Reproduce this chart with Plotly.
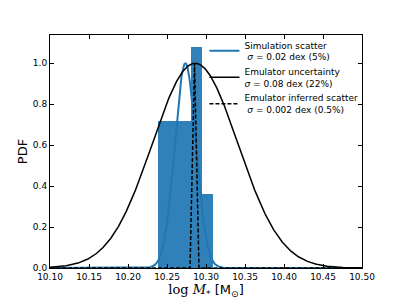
import numpy as np
import plotly.graph_objects as go

# Histogram (simulation samples), bin edges and heights
bin_edges = [10.2388, 10.2528, 10.2667, 10.2807, 10.2946, 10.3086]
bin_heights = [0.72, 0.72, 0.72, 1.08, 0.36]

# Gaussian curve parameters (peak-normalised curves)
sim_mu, sim_sigma = 10.2735, 0.0135
emu_mu, emu_sigma = 10.286, 0.055
# Emulator inferred scatter (narrow dashed peak) points
inf_x = [10.10, 10.2795, 10.2853, 10.2910, 10.50]
inf_y = [0.0, 0.0, 1.0, 0.0, 0.0]

x_ticks = [10.10, 10.15, 10.20, 10.25, 10.30, 10.35, 10.40, 10.45, 10.50]
y_ticks = [0.0, 0.2, 0.4, 0.6, 0.8, 1.0]

grid = np.linspace(10.10, 10.50, 801)
sim_curve = np.exp(-0.5 * ((grid - sim_mu) / sim_sigma) ** 2)
emu_curve = np.exp(-0.5 * ((grid - emu_mu) / emu_sigma) ** 2)

blue = "#1f77b4"
fig = go.Figure()

fig.add_trace(go.Scatter(x=grid, y=sim_curve, mode="lines",
                         line=dict(color=blue, width=2),
                         name="Simulation scatter<br> <i>σ</i> = 0.02 dex (5%)"))

centers = [(bin_edges[i] + bin_edges[i + 1]) / 2 for i in range(len(bin_heights))]
widths = [bin_edges[i + 1] - bin_edges[i] for i in range(len(bin_heights))]
fig.add_trace(go.Bar(x=centers, y=bin_heights, width=widths,
                     marker=dict(color=blue, line=dict(width=0)),
                     opacity=0.92, showlegend=False))

fig.add_trace(go.Scatter(x=grid, y=emu_curve, mode="lines",
                         line=dict(color="black", width=1.5),
                         name="Emulator uncertainty<br><i>σ</i> = 0.08 dex (22%)"))

fig.add_trace(go.Scatter(x=inf_x, y=inf_y, mode="lines",
                         line=dict(color="black", width=1.5, dash="4px,2px"),
                         name="Emulator inferred scatter<br> <i>σ</i> = 0.002 dex (0.5%)"))

axis_common = dict(showline=True, linecolor="black", linewidth=1, mirror="allticks",
                   ticks="inside", ticklen=4, tickcolor="black", showgrid=False,
                   zeroline=False, tickfont=dict(size=9, color="black"),
                   automargin=False)

fig.update_layout(
    width=403, height=302,
    margin=dict(l=50, r=41, t=35, b=34),
    paper_bgcolor="white", plot_bgcolor="white",
    font=dict(family="DejaVu Sans", color="black"),
    barmode="overlay",
    bargap=0,
    xaxis=dict(range=[10.10, 10.50], tickvals=x_ticks,
               ticktext=[f"{v:.2f}" for v in x_ticks],
               title=dict(text="<span style='font-family:DejaVu Serif'>log <i>M</i></span><sub>*</sub> [M<sub>⊙</sub>]",
                          font=dict(size=13), standoff=0),
               **axis_common),
    yaxis=dict(range=[0, 1.138], tickvals=y_ticks,
               ticktext=[f"{v:.1f}" for v in y_ticks],
               title=dict(text="PDF", font=dict(size=13), standoff=2),
               **axis_common),
    legend=dict(x=0.495, y=1.01, xanchor="left", yanchor="top",
                bgcolor="rgba(0,0,0,0)", font=dict(size=9),
                itemwidth=30),
)

fig.write_html("out.html",
               config={"displayModeBar": False},
               post_script="document.body.style.margin='0';document.body.style.overflow='hidden';")
